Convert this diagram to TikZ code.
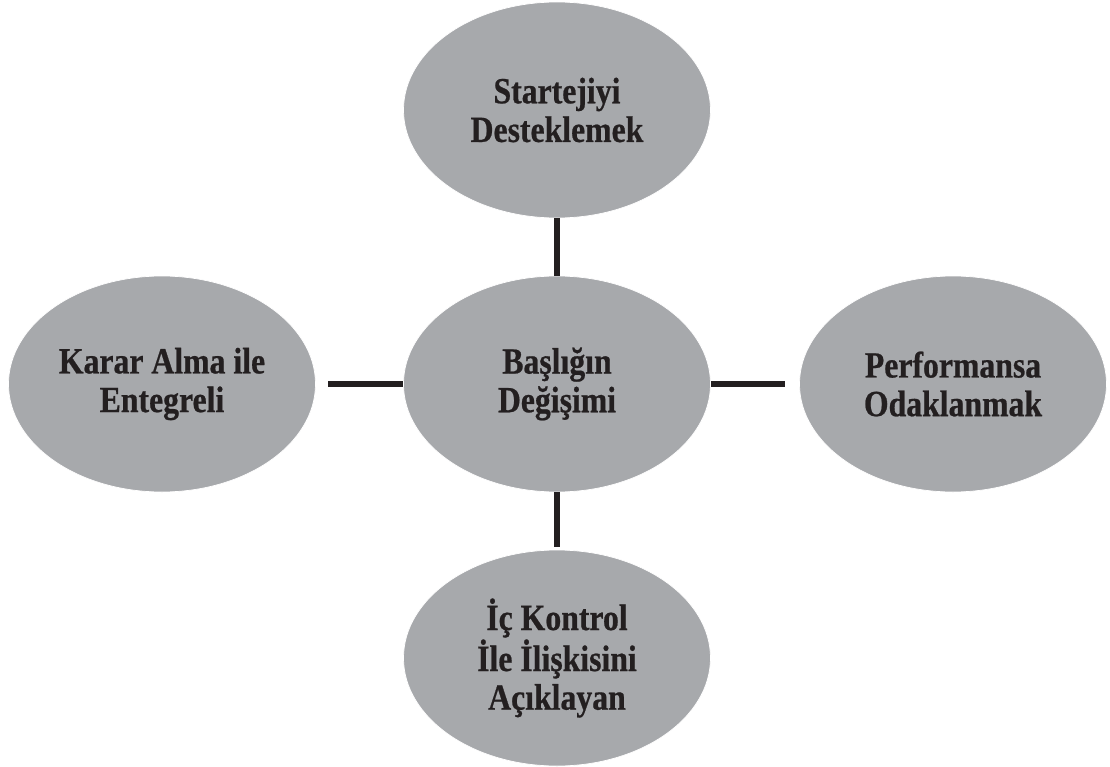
\documentclass[tikz,border=0pt]{standalone}
\usepackage{fontspec}
\setmainfont{Liberation Serif}
\newfontfamily\ovalfont[FakeStretch=0.86,FakeBold=0.6]{Liberation Serif}
\usepackage{xcolor}
\usetikzlibrary{positioning}
\usetikzlibrary{shapes}

\definecolor{ovalgray}{HTML}{A7A9AC}
\definecolor{inkblack}{HTML}{231F20}

\begin{document}
\begin{tikzpicture}[node distance=5.48cm and 7.9cm,on grid,
  oval/.style={ellipse,fill=ovalgray,draw=white,line width=0.4pt,
    minimum width=6.14cm,minimum height=4.32cm,inner sep=0pt,
    align=center,text=inkblack,
    font=\ovalfont\bfseries\fontsize{21}{22}\selectfont},
  link/.style={draw=inkblack,line width=3.3pt}]
  \useasboundingbox (-11.14,7.68) rectangle (11.06,-7.64);
  \node[oval] (mid) {Başlığın\\Değişimi};
  \node[oval] (top) [above=of mid] {Startejiyi\\Desteklemek};
  \node[oval] (lft) [left=of mid] {Karar Alma ile\\Entegreli};
  \node[oval] (rgt) [right=7.92cm of mid] {Performansa\\Odaklanmak};
  \node[oval] (bot) [below=of mid] {İç Kontrol\\İle İlişkisini\\Açıklayan};
  % connectors
  \draw[link] (mid) -- (top);
  \draw[link,shorten >=0.24cm] (mid) -- (lft);
  \draw[link,shorten >=0.28cm] (mid) -- (rgt);
  \draw[link,shorten >=0.06cm] (mid) -- (bot);
\end{tikzpicture}
\end{document}
